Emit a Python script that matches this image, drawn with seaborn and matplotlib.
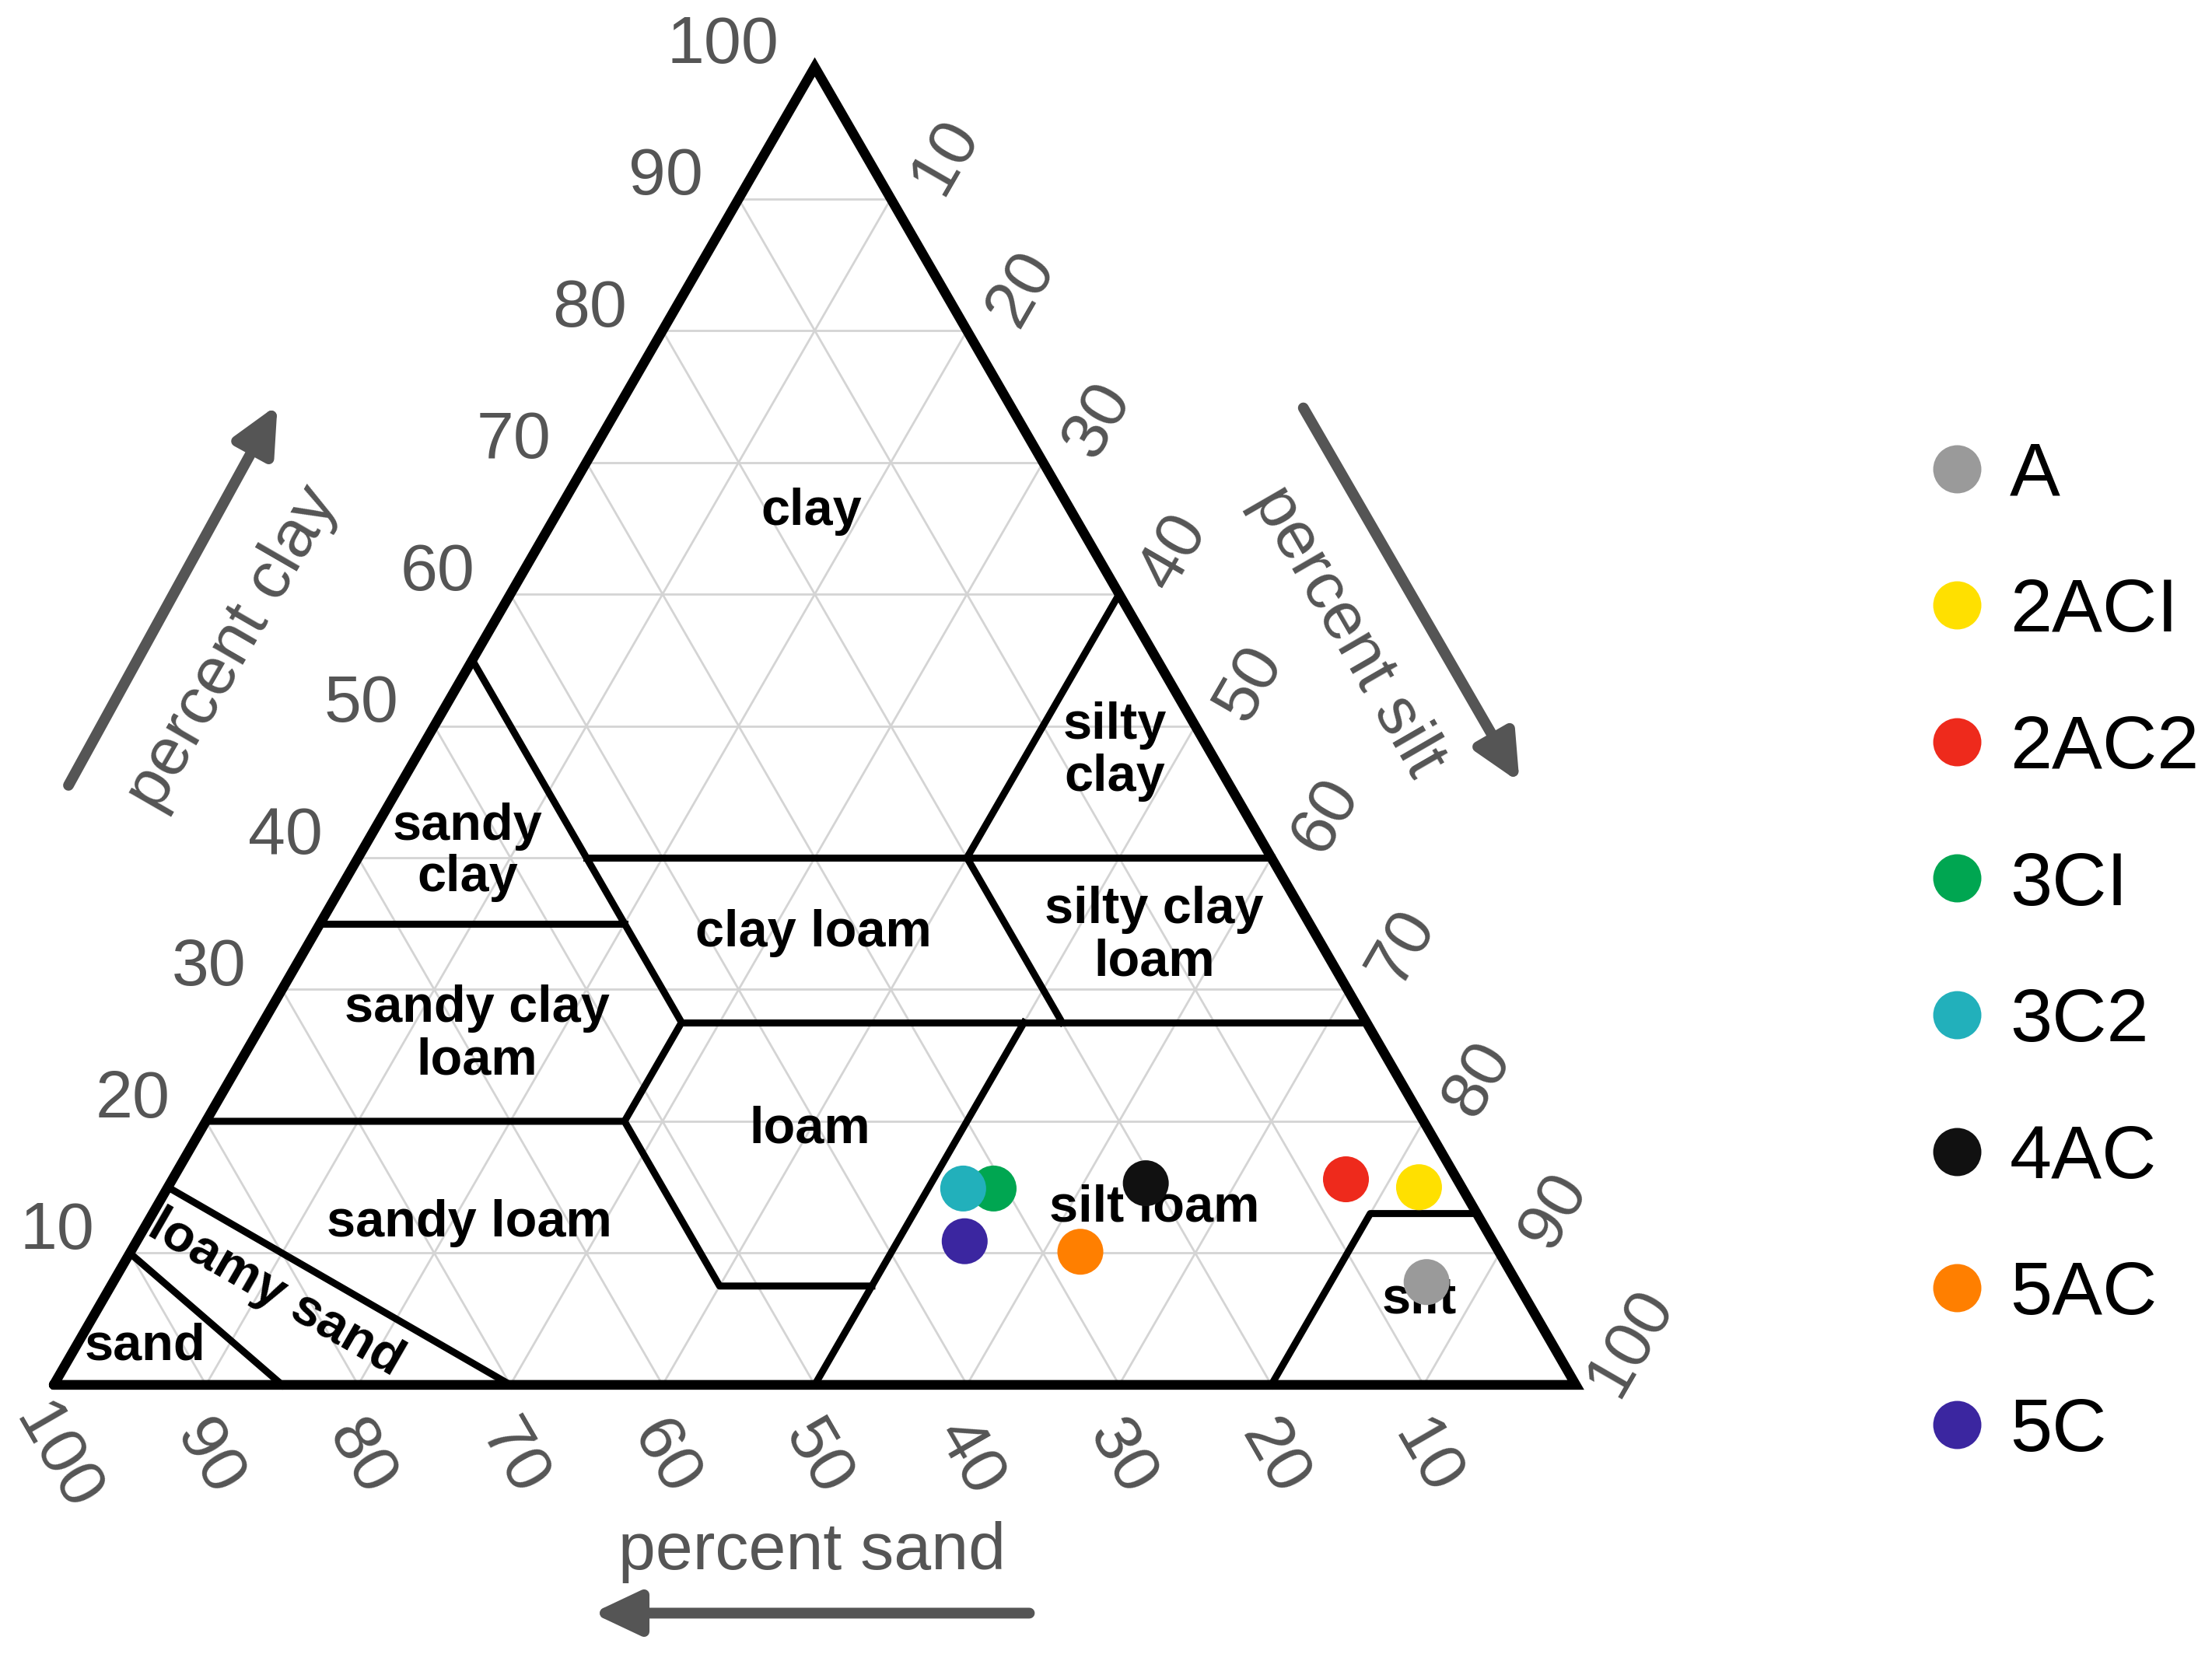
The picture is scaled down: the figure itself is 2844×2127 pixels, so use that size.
import numpy as np
import pandas as pd
import matplotlib
matplotlib.use("Agg")
import matplotlib.pyplot as plt
from matplotlib.lines import Line2D
import seaborn as sns

# samples (percent sand / silt / clay)
SAMPLES = ["A", "2ACI", "2AC2", "3CI", "3C2", "4AC", "5AC", "5C"]
SAND = [5.9, 2.8, 7.3, 30.8, 32.8, 20.6, 27.5, 34.7]
SILT = [86.3, 82.2, 77.1, 54.3, 52.3, 64.1, 62.4, 54.4]
CLAY = [7.8, 15.0, 15.6, 14.9, 14.9, 15.3, 10.1, 10.9]
COLORS = ["#9a9a9a", "#ffe000", "#ee2a1c", "#00a651", "#22b0bb",
          "#111111", "#ff7f00", "#3b26a0"]

TICKS = [10, 20, 30, 40, 50, 60, 70, 80, 90, 100]
GRID = [10, 20, 30, 40, 50, 60, 70, 80, 90]

# USDA texture class boundaries, as (sand, silt, clay) polylines
BOUNDARIES = [
    [(45, 0, 55), (45, 27.5, 27.5)],
    [(45, 15, 40), (0, 60, 40)],
    [(0, 40, 60), (20, 40, 40), (20, 52.5, 27.5)],
    [(65, 0, 35), (45, 20, 35)],
    [(45, 27.5, 27.5), (0, 72.5, 27.5)],
    [(45, 27.5, 27.5), (52.5, 27.5, 20)],
    [(80, 0, 20), (52.5, 27.5, 20), (52.5, 40, 7.5), (42.5, 50, 7.5)],
    [(22.5, 50, 27.5), (50, 50, 0)],
    [(20, 80, 0), (7, 80, 13), (0, 87, 13)],
    [(85, 0, 15), (70, 30, 0)],
    [(90, 0, 10), (85, 15, 0)],
]
OUTLINE = [(100, 0, 0), (0, 100, 0), (0, 0, 100), (100, 0, 0)]

# class names and where they sit (plot units)
CLASS_LABELS = [
    ("clay", 49.8, 57.4, 0), ("silty\nclay", 69.7, 41.6, 0),
    ("sandy\nclay", 27.2, 35.0, 0), ("clay loam", 49.9, 29.7, 0),
    ("silty clay\nloam", 72.3, 29.5, 0), ("sandy clay\nloam", 27.8, 23.0, 0),
    ("loam", 49.7, 16.8, 0), ("silt loam", 72.3, 11.6, 0),
    ("sandy loam", 27.3, 10.6, 0), ("loamy sand", 14.6, 6.0, -30),
    ("sand", 6.0, 2.5, 0), ("silt", 89.7, 5.6, 0),
]

H = np.sqrt(3) / 2


def to_xy(sand, silt, clay):
    return silt + clay / 2, clay * H


def line_xy(pts):
    xs, ys = zip(*[to_xy(*p) for p in pts])
    return list(xs), list(ys)


sns.set_theme(style="white")
plt.rcParams["font.family"] = ["Liberation Sans", "DejaVu Sans"]

fig = plt.figure(figsize=(28.44, 21.27), dpi=100)
ax = fig.add_axes([0, 0, 1, 1])
ax.set_xlim(-3.53, 141.8)
ax.set_ylim(-17.68, 91.0)
ax.set_aspect("equal")
ax.axis("off")

# grid
for v in GRID:
    for pts in ([(100 - v, 0, v), (0, 100 - v, v)],
                [(100 - v, v, 0), (0, v, 100 - v)],
                [(v, 100 - v, 0), (v, 0, 100 - v)]):
        xs, ys = line_xy(pts)
        ax.plot(xs, ys, color="#d4d4d4", lw=2, zorder=1)

for pts in BOUNDARIES:
    xs, ys = line_xy(pts)
    ax.plot(xs, ys, color="black", lw=6.5, solid_capstyle="projecting", zorder=2)
xs, ys = line_xy(OUTLINE)
ax.plot(xs, ys, color="black", lw=9, solid_joinstyle="miter", zorder=3)

for name, x, y, rot in CLASS_LABELS:
    ax.text(x, y, name, ha="center", va="center", rotation=rot, color="black",
            fontsize=48, fontweight="bold", linespacing=1.1, zorder=4)

# tick labels
tick_color = "#555555"
for v in TICKS:
    x, y = to_xy(100 - v, 0, v)
    ax.text(x - 2.35, y + 1.4, str(v), ha="right", va="center",
            fontsize=62, color=tick_color)
    x, y = to_xy(0, v, 100 - v)
    ax.text(x + 3.59, y + 2.78, str(v), ha="center", va="center",
            rotation=60, fontsize=62, color=tick_color)
    x, y = to_xy(v, 100 - v, 0)
    ax.text(x + 0.15, y - 4.8, str(v), ha="center", va="center",
            rotation=-60, fontsize=62, color=tick_color)

# axis titles and arrows
ax.text(11.75, 48.4, "percent clay", rotation=60, ha="center", va="center",
        fontsize=62, color=tick_color)
ax.text(85.0, 49.5, "percent silt", rotation=-60, ha="center", va="center",
        fontsize=62, color=tick_color)
ax.text(49.8, -12.1, "percent sand", ha="center", va="baseline",
        fontsize=62, color=tick_color)
arrow = dict(arrowstyle="-|>,head_length=3.6,head_width=1.7", color=tick_color,
             lw=10, mutation_scale=10, shrinkA=0, shrinkB=0)
ax.annotate("", xy=(14.7, 64.4), xytext=(0.97, 39.4), arrowprops=arrow)
ax.annotate("", xy=(96.3, 39.6), xytext=(82.1, 64.2), arrowprops=arrow)
ax.annotate("", xy=(35.4, -15.0), xytext=(64.1, -15.0), arrowprops=arrow)

# samples
df = pd.DataFrame({"sample": SAMPLES, "sand": SAND, "silt": SILT, "clay": CLAY})
df["x"], df["y"] = to_xy(df["sand"], df["silt"], df["clay"])
palette = dict(zip(SAMPLES, COLORS))
sns.scatterplot(data=df, x="x", y="y", hue="sample", palette=palette,
                s=1806, linewidth=0, legend=False, ax=ax, zorder=6)

handles = [Line2D([0], [0], marker="o", linestyle="", markersize=44.6,
                  markeredgewidth=0, color=c, label=s)
           for s, c in zip(SAMPLES, COLORS)]
leg = fig.legend(handles=handles, loc="upper left", bbox_to_anchor=(0.871, 0.7335),
                 frameon=False, fontsize=70, handlelength=0.8, handletextpad=0.3,
                 labelspacing=0.88, borderpad=0, borderaxespad=0)
for t in leg.get_texts():
    t.set_color("black")

fig.savefig("out.png", dpi=100)
